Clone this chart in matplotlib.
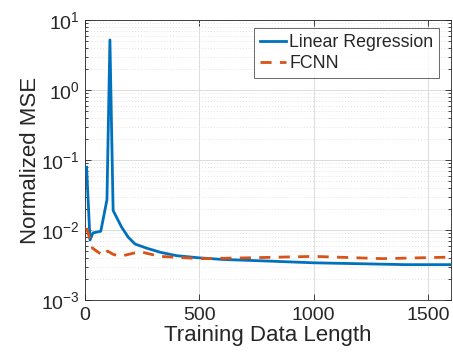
import matplotlib
matplotlib.use("Agg")
import matplotlib.pyplot as plt
from matplotlib.ticker import LogLocator, NullFormatter, FixedLocator

plt.rcParams['font.family'] = ['Liberation Sans', 'DejaVu Sans']
plt.rcParams['mathtext.fontset'] = 'custom'
plt.rcParams['mathtext.rm'] = 'Liberation Sans'
plt.rcParams['mathtext.it'] = 'Liberation Sans'

lr_x = [7, 22, 35, 69, 96, 109, 123, 160, 189, 219, 270, 330, 400, 500, 600, 800, 1000, 1200, 1400, 1600]
lr_y = [0.079, 0.0072, 0.0091, 0.0096, 0.027, 5.2, 0.019, 0.011, 0.0079, 0.0063, 0.0055, 0.0048, 0.0043, 0.0040, 0.0038, 0.0036, 0.0034, 0.0033, 0.0032, 0.0032]

fc_x = [7, 33, 79, 99, 123, 153, 240, 328, 503, 700, 1000, 1300, 1600]
fc_y = [0.0107, 0.0055, 0.0043, 0.0050, 0.0045, 0.0042, 0.0049, 0.0042, 0.0039, 0.0040, 0.0042, 0.0039, 0.0041]

x_ticks = [0, 500, 1000, 1500]
y_ticks = [1e-3, 1e-2, 1e-1, 1e0, 1e1]
y_ticklabels = [r'$10^{-3}$', r'$10^{-2}$', r'$10^{-1}$', r'$10^{0}$', r'$10^{1}$']

blue = '#0072BD'
orange = '#D95319'
axcol = '#262626'

fig = plt.figure(figsize=(4.53, 3.58), dpi=100)
ax = fig.add_axes([0.1876, 0.162, 0.808, 0.782])

ax.plot(lr_x, lr_y, color=blue, lw=2.0, label='Linear Regression', zorder=3)
ax.plot(fc_x, fc_y, color=orange, lw=2.0, ls=(0, (4, 3)), label='FCNN', zorder=3)

ax.set_yscale('log')
ax.set_xlim(0, 1600)
ax.set_ylim(1e-3, 1e1)
ax.xaxis.set_major_locator(FixedLocator(x_ticks))
ax.set_xticklabels([str(t) for t in x_ticks])
ax.set_yticks(y_ticks)
ax.set_yticklabels(y_ticklabels)
ax.yaxis.set_minor_locator(LogLocator(base=10, subs=range(2, 10), numticks=20))
ax.yaxis.set_minor_formatter(NullFormatter())

ax.grid(True, which='major', color='#dcdcdc', lw=0.7)
ax.grid(True, which='minor', axis='y', color='#e4e4e4', lw=0.7, ls=(0, (1, 2)))
ax.set_axisbelow(True)

for s in ax.spines.values():
    s.set_color(axcol)
    s.set_linewidth(0.6)
ax.tick_params(which='both', direction='in', top=True, right=True, colors=axcol, labelsize=14, width=0.6)
ax.tick_params(which='major', length=4)
ax.tick_params(which='minor', length=2)
ax.tick_params(axis='x', pad=5)
for lab in ax.get_xticklabels() + ax.get_yticklabels():
    lab.set_color(axcol)

ax.set_xlabel('Training Data Length', fontsize=16, color=axcol, labelpad=1)
ax.set_ylabel('Normalized MSE', fontsize=16, color=axcol, labelpad=0)

leg = ax.legend(loc='upper right', bbox_to_anchor=(0.982, 0.99), fontsize=12.8, frameon=True, fancybox=False,
                handlelength=1.45, handletextpad=0.2, borderpad=0.32, labelspacing=0.25, borderaxespad=0.3)
leg.get_frame().set_edgecolor(axcol)
leg.get_frame().set_linewidth(0.6)
for t in leg.get_texts():
    t.set_color(axcol)

fig.savefig('out.png', dpi=100)
